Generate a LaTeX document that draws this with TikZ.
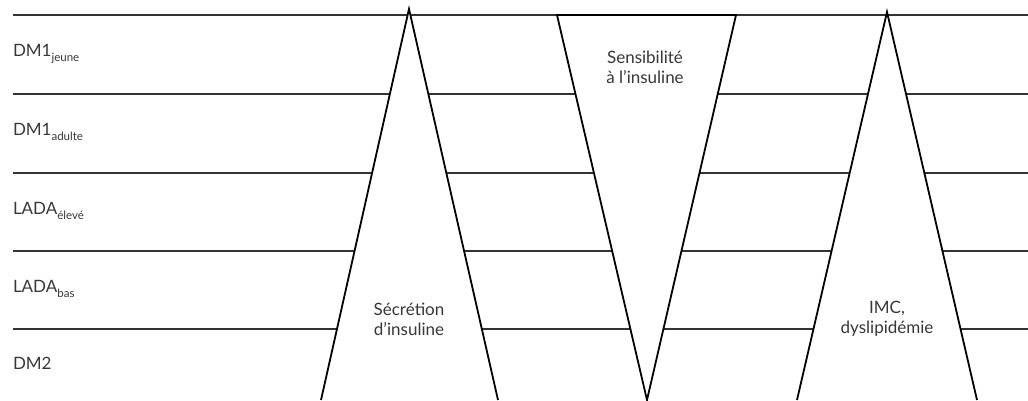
\documentclass[tikz,border=0pt]{standalone}
\usepackage{fontspec}
\setmainfont{Lato}
\newcommand{\lowsub}[1]{\raisebox{-5pt}{\fontsize{11.5}{12}\selectfont #1}}
\begin{document}
\begin{tikzpicture}[x=1pt,y=-1pt,every node/.style={font=\fontsize{17}{20}\selectfont, text=black!78, inner sep=0pt, outer sep=0pt},
  row/.style={draw=black!80,line width=1.2pt},
  wedge/.style={draw=black,fill=white,line width=1.8pt,line join=miter}]
\useasboundingbox (0,0) rectangle (1028,400);
\draw[row] (13,15) -- (1028,15);
\draw[row] (13,94) -- (1028,94);
\draw[row] (13,173) -- (1028,173);
\draw[row] (13,251) -- (1028,251);
\draw[row] (13,329) -- (1028,329);
\draw[wedge] (321,400) -- (409,9) -- (498,400);
\draw[wedge] (557,15) -- (647,400) -- (736,15) -- cycle;
\draw[wedge] (797,400) -- (887,12) -- (977,400);
\node[anchor=base west] (dmjeune) at (13,56) {DM1\lowsub{jeune}};
\node[anchor=base west] (dmadulte) at (13,135) {DM1\lowsub{adulte}};
\node[anchor=base west] (ladaeleve) at (13,214) {LADA\lowsub{élevé}};
\node[anchor=base west] (ladabas) at (13,292) {LADA\lowsub{bas}};
\node[anchor=base west] (dmdeux) at (13,369) {DM2};
\node[align=center] (secretion) at (409,319) {Sécrétion\\d’insuline};
\node[align=center] (sensibilite) at (645,67) {Sensibilité\\à l’insuline};
\node[align=center] (imc) at (887,319) {IMC,\\dyslipidémie};
\end{tikzpicture}
\end{document}
